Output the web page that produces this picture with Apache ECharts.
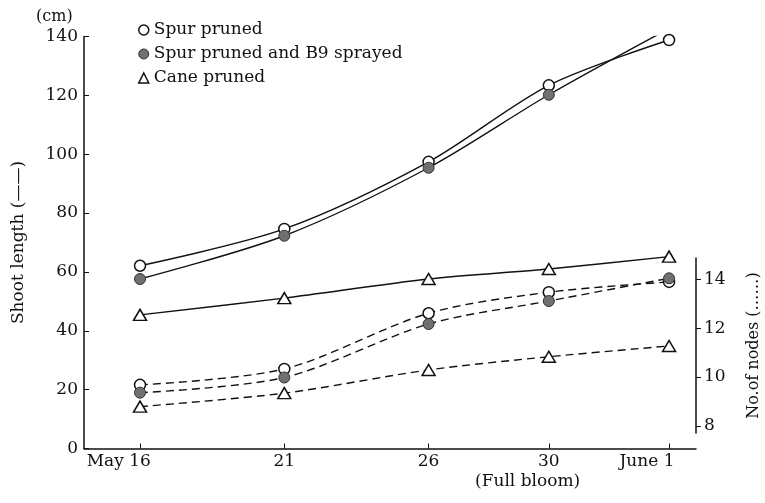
<!DOCTYPE html>
<html>
<head>
<meta charset="utf-8">
<script src="https://cdn.jsdelivr.net/npm/echarts@6/dist/echarts.min.js"></script>
<style>
  html, body { margin: 0; padding: 0; background: #fff; }
  #chart { width: 765px; height: 503px; }
</style>
</head>
<body>
<div id="chart"></div>
<script>
// sampling dates and their place along the x axis (spacing)
const dates = ['May 16', '21', '26', '30', 'June 1'];
const xSteps = [0, 6, 12, 17, 22];

// shoot length (cm), solid lines
const spurLength = [62.1, 74.6, 97.4, 123.4, 138.8];
const b9Length = [57.6, 72.3, 95.4, 120.2, 142.7];
const caneLength = [45.4, 51.1, 57.6, 61.0, 65.2];

// number of nodes, dashed lines
const spurNodes = [9.68, 10.33, 12.61, 13.47, 13.89];
const b9Nodes = [9.36, 9.98, 12.17, 13.11, 14.04];
const caneNodes = [8.79, 9.34, 10.29, 10.83, 11.27];
const nodeTicks = [8, 10, 12, 14];

const FONT = 'DejaVu Serif';
const INK = '#111';

var chart = echarts.init(document.getElementById('chart'));

const pts = (vals) => xSteps.map((x, i) => [x, vals[i]]);

const openDot = { color: '#fff', borderColor: INK, borderWidth: 1.5 };
const fullDot = { color: '#707070', borderColor: '#333', borderWidth: 1 };

function makeSeries(name, vals, dashed, symbol, itemStyle, onNodes) {
  return {
    name: name,
    type: 'line',
    xAxisIndex: onNodes ? 1 : 0,
    yAxisIndex: onNodes ? 1 : 0,
    data: pts(vals),
    smooth: 0.3,
    symbol: symbol,
    symbolSize: symbol === 'triangle' ? [13, 11] : 11,
    showSymbol: true,
    lineStyle: { color: INK, width: 1.4, type: dashed ? [8, 5] : 'solid' },
    itemStyle: itemStyle,
    emphasis: { disabled: true },
    z: itemStyle === fullDot ? 3 : 2
  };
}

const xAxisBase = {
  type: 'value',
  min: -2.33,
  max: 23.12,
  splitLine: { show: false }
};

var option = {
  animation: false,
  backgroundColor: '#fff',
  textStyle: { fontFamily: FONT, color: INK },
  grid: [
    { left: 84, right: 69, top: 36.5, bottom: 54.5, outerBoundsMode: 'none' },
    { left: 84, right: 69, top: 258, bottom: 70, outerBoundsMode: 'none' }
  ],
  legend: {
    orient: 'vertical',
    left: 133,
    top: 15,
    itemWidth: 10,
    itemHeight: 10,
    itemGap: 4,
    selectedMode: false,
    textStyle: { fontFamily: FONT, fontSize: 17, color: INK, lineHeight: 20 },
    data: [
      { name: 'Spur pruned', icon: 'circle', itemStyle: openDot },
      { name: 'Spur pruned and B9 sprayed', icon: 'circle', itemStyle: fullDot },
      { name: 'Cane pruned', icon: 'triangle', itemStyle: openDot }
    ]
  },
  xAxis: [
    Object.assign({}, xAxisBase, {
      gridIndex: 0,
      axisLine: { onZero: false, lineStyle: { color: INK, width: 1.5 } },
      axisTick: { inside: true, length: 5, customValues: xSteps, lineStyle: { color: INK } },
      axisLabel: {
        customValues: xSteps,
        margin: 5,
        fontFamily: FONT,
        fontSize: 17,
        color: INK,
        formatter: function (v) {
          const lab = dates[xSteps.indexOf(v)];
          if (lab === undefined) return '';
          const sp = lab.lastIndexOf(' ');
          if (sp < 0) return lab;
          const pre = lab.slice(0, sp + 1);
          return '{p|' + pre + '}{n|' + lab.slice(sp + 1) + '}{h|' + pre + '}';
        },
        rich: {
          p: { fontFamily: FONT, fontSize: 17, color: INK },
          n: { fontFamily: FONT, fontSize: 17, color: INK },
          h: { fontFamily: FONT, fontSize: 17, color: 'transparent' }
        }
      }
    }),
    Object.assign({}, xAxisBase, {
      gridIndex: 1,
      show: false
    })
  ],
  yAxis: [
    {
      type: 'value',
      gridIndex: 0,
      min: 0,
      max: 140,
      interval: 20,
      name: 'Shoot length (——)',
      nameLocation: 'middle',
      nameGap: 57,
      nameTextStyle: { fontFamily: FONT, fontSize: 17, color: INK },
      axisLine: { show: true, onZero: false, lineStyle: { color: INK, width: 1.5 } },
      axisTick: { show: true, inside: true, length: 5, lineStyle: { color: INK } },
      axisLabel: { margin: 6, fontFamily: FONT, fontSize: 17, color: INK },
      splitLine: { show: false }
    },
    {
      type: 'value',
      gridIndex: 1,
      position: 'right',
      min: 7.71,
      max: 14.87,
      name: 'No.of nodes (……)',
      nameLocation: 'middle',
      nameRotate: 90,
      nameGap: 50,
      nameTextStyle: { fontFamily: FONT, fontSize: 16, color: INK },
      axisLine: { show: true, onZero: false, lineStyle: { color: INK, width: 1.5 } },
      axisTick: { show: true, inside: false, length: 5, customValues: nodeTicks, lineStyle: { color: INK } },
      axisLabel: { customValues: nodeTicks, margin: 8, fontFamily: FONT, fontSize: 17, color: INK },
      splitLine: { show: false }
    }
  ],
  graphic: [
    {
      type: 'text',
      left: 36,
      top: 9,
      style: { text: '(cm)', fontFamily: FONT, fontSize: 16, fill: INK }
    },
    {
      type: 'text',
      left: 475,
      top: 473,
      style: { text: '(Full bloom)', fontFamily: FONT, fontSize: 17, fill: INK }
    }
  ],
  series: [
    makeSeries('Cane pruned', caneLength, false, 'triangle', openDot, false),
    makeSeries('Spur pruned', spurLength, false, 'circle', openDot, false),
    makeSeries('Spur pruned and B9 sprayed', b9Length, false, 'circle', fullDot, false),
    makeSeries('Cane pruned', caneNodes, true, 'triangle', openDot, true),
    makeSeries('Spur pruned', spurNodes, true, 'circle', openDot, true),
    makeSeries('Spur pruned and B9 sprayed', b9Nodes, true, 'circle', fullDot, true)
  ]
};

chart.setOption(option);
</script>
</body>
</html>
